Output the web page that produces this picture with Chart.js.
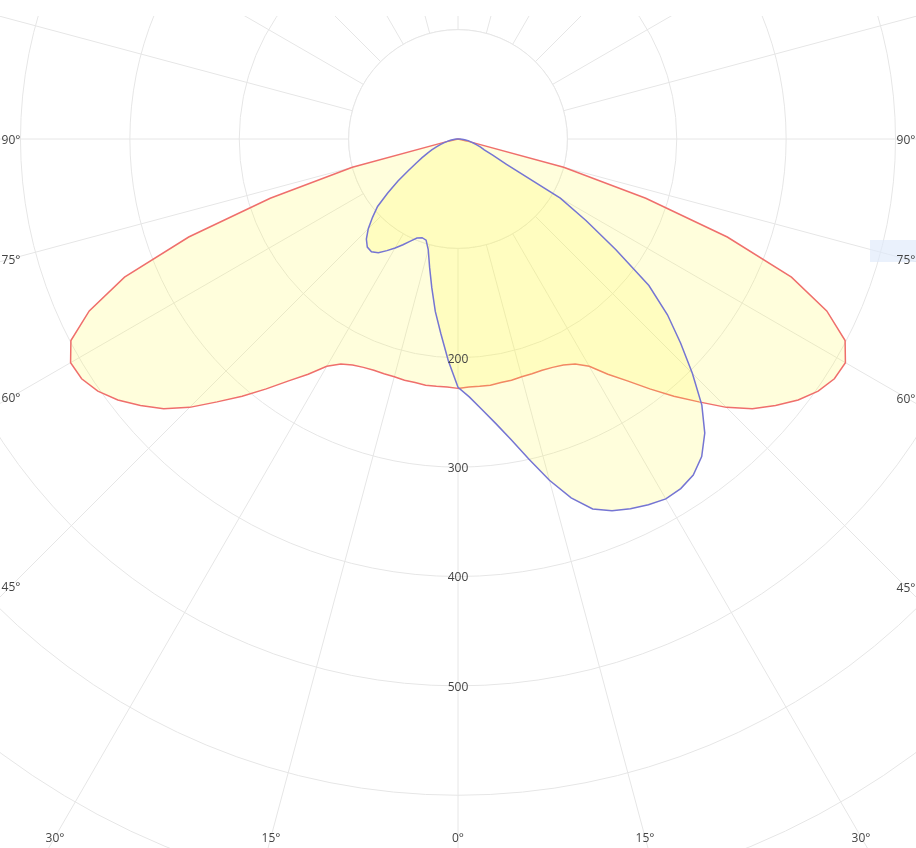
<!DOCTYPE html>
<html>
<head>
<meta charset="utf-8">
<script src="https://cdn.jsdelivr.net/npm/chart.js@4.4.1/dist/chart.umd.min.js"></script>
<style>
  html, body { margin: 0; padding: 0; background: #fff; }
  #view { position: absolute; left: 0; top: 16px; width: 916px; height: 832px; overflow: hidden; }
  #polar { position: absolute; left: -417px; top: -752px; }
</style>
</head>
<body>
<div id="view"><canvas id="polar" width="1750" height="1750"></canvas></div>
<script>
// gamma angle from nadir, one half plane, 2.5 deg steps
const gamma = [0, 2.5, 5, 7.5, 10, 12.5, 15, 17.5, 20, 22.5, 25, 27.5, 30, 32.5, 35, 37.5, 40, 42.5, 45,
  47.5, 50, 52.5, 55, 57.5, 60, 62.5, 65, 67.5, 70, 72.5, 75, 77.5, 80, 82.5, 85, 87.5, 90];

// C0-C180 plane (same both sides)
const planeC0C180 = [228, 227, 227, 227, 226, 226, 225, 225, 225, 226, 228, 232, 240, 255, 270, 288, 307, 326, 347,
  365, 379, 392, 402, 408, 409, 399, 372, 330, 262, 180, 100, 8, 0, 0, 0, 0, 0];
// C90 half plane (right lobe)
const planeC90 = [227, 236, 248, 262, 279, 300, 323, 344, 360, 368, 373, 377, 380, 379, 375, 366, 351, 330, 303,
  276, 250, 220, 176, 139, 108, 50, 35, 26, 22, 18, 15, 12, 10, 7, 5, 2, 0];
// C270 half plane (left hook)
const planeC270 = [227, 203, 179, 159, 138, 120, 105, 97, 96, 98, 103, 109, 115, 121, 127, 130, 129, 124, 116,
  106, 96, 81, 67, 54, 44, 37, 31, 26, 21, 17, 13, 10, 7, 5, 3, 1, 0];

const radiusTicks = [200, 300, 400, 500];
const angleTicks = [0, 15, 30, 45, 60, 75, 90];

const GRID = "#e6e6e6";
const TEXT = "#444";
const FONT = '12px "Open Sans"';

// page (0,0) sits at this point of the big canvas
const px = (x) => x + 417;
const py = (y) => y + 736;

// full circle of categories, index 0 points down (nadir)
const angles = [];
for (let a = 0; a < 360; a += 2.5) angles.push(a);

const toRing = (left, right) =>
  angles.map((a) => {
    if (a <= 90) return left[gamma.indexOf(a)];
    if (a >= 270) return right[gamma.indexOf(360 - a)];
    return 0;
  });

const polarDecor = {
  id: "polarDecor",
  beforeDatasetsDraw(chart) {
    const r = chart.scales.r;
    const ctx = chart.ctx;
    ctx.save();
    ctx.beginPath();
    ctx.arc(r.xCenter, r.yCenter, r.getDistanceFromCenterForValue(100), 0, Math.PI * 2);
    ctx.fillStyle = "#fff";
    ctx.fill();
    ctx.strokeStyle = GRID;
    ctx.lineWidth = 1;
    ctx.stroke();
    ctx.restore();
  },
  afterDatasetsDraw(chart) {
    const r = chart.scales.r;
    const ctx = chart.ctx;
    ctx.save();

    // faint hover box left over on the right edge
    ctx.fillStyle = "rgba(222,234,250,0.65)";
    ctx.fillRect(px(870), py(240), 46, 22);

    ctx.font = FONT;
    ctx.fillStyle = TEXT;
    ctx.textAlign = "center";
    ctx.textBaseline = "middle";

    radiusTicks.forEach((v) => {
      const p = r.getPointPosition(0, r.getDistanceFromCenterForValue(v));
      ctx.fillText(String(v), p.x, p.y + 1.5);
    });

    // angle labels where each spoke leaves the visible frame
    const xMin = px(11), xMax = px(906), yMax = py(837);
    angles.forEach((a, i) => {
      if (a > 90 && a < 270) return;
      const g = a <= 180 ? a : 360 - a;
      if (!angleTicks.includes(g)) return;
      const p = r.getPointPosition(i, 1000);
      const ux = (p.x - r.xCenter) / 1000;
      const uy = (p.y - r.yCenter) / 1000;
      let t = Infinity;
      if (ux < -1e-6) t = Math.min(t, (xMin - r.xCenter) / ux);
      if (ux > 1e-6) t = Math.min(t, (xMax - r.xCenter) / ux);
      if (uy > 1e-6) t = Math.min(t, (yMax - r.yCenter) / uy);
      ctx.fillText(g + "°", r.xCenter + ux * t, r.yCenter + uy * t + 1.5);
    });
    ctx.restore();
  },
};

const fillColor = "rgba(255,250,60,0.18)";

new Chart(document.getElementById("polar"), {
  type: "radar",
  data: {
    labels: angles.map((a) => a + "°"),
    datasets: [
      {
        label: "C90-C270",
        data: toRing(planeC270, planeC90),
        borderColor: "#7575d3",
        backgroundColor: fillColor,
        borderWidth: 1.5,
        fill: true,
        pointRadius: 0,
        tension: 0,
      },
      {
        label: "C0-C180",
        data: toRing(planeC0C180, planeC0C180),
        borderColor: "#ef6f6c",
        backgroundColor: fillColor,
        borderWidth: 1.5,
        fill: true,
        pointRadius: 0,
        tension: 0,
      },
    ],
  },
  options: {
    responsive: false,
    animation: false,
    devicePixelRatio: 1,
    events: [],
    plugins: {
      legend: { display: false },
      tooltip: { enabled: false },
    },
    scales: {
      r: {
        min: 0,
        max: 800,
        startAngle: 180,
        ticks: { display: false, stepSize: 100 },
        grid: { circular: true, color: GRID, lineWidth: 1 },
        angleLines: {
          lineWidth: 1,
          color: (ctx) => (angles[ctx.index] % 15 === 0 ? GRID : "rgba(0,0,0,0)"),
        },
        pointLabels: { display: false },
      },
    },
  },
  plugins: [polarDecor],
});
</script>
</body>
</html>
